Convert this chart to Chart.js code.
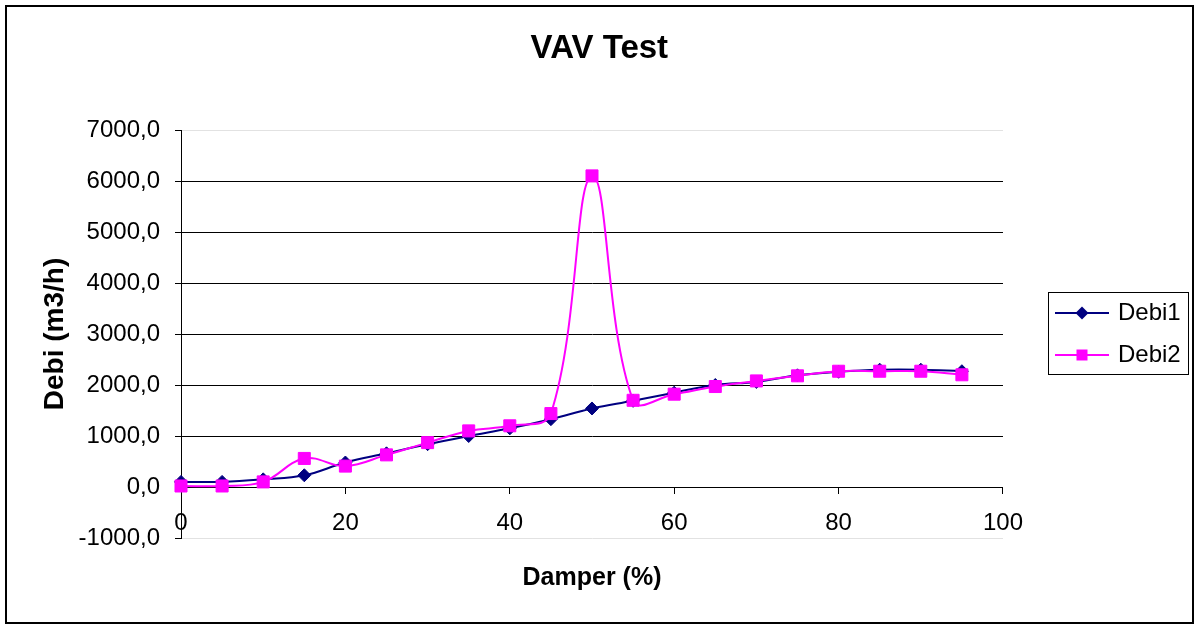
<!DOCTYPE html>
<html>
<head>
<meta charset="utf-8">
<script src="https://cdn.jsdelivr.net/npm/chart.js@4"></script>
<style>
html,body{margin:0;padding:0;background:#fff;}
#wrap{position:relative;width:1196px;height:626px;}
#frame{position:absolute;left:5px;top:5px;width:1185px;height:615px;border:2px solid #000;pointer-events:none;}
</style>
</head>
<body>
<div id="wrap"><canvas id="c" width="1196" height="626"></canvas><div id="frame"></div></div>
<script>
// ---- data ----
const damper = [0, 5, 10, 15, 20, 25, 30, 35, 40, 45, 50, 55, 60, 65, 70, 75, 80, 85, 90, 95];
const debi1  = [100, 100, 150, 230, 480, 660, 840, 1000, 1150, 1330, 1540, 1690, 1850, 2000, 2060, 2190, 2260, 2300, 2300, 2270];
const debi2  = [20, 20, 100, 560, 410, 630, 870, 1100, 1200, 1440, 6100, 1700, 1820, 1970, 2080, 2180, 2270, 2270, 2270, 2200];
const seriesNames = ['Debi1', 'Debi2'];
const xTicks = [0, 20, 40, 60, 80, 100];
const yTicks = [-1000, 0, 1000, 2000, 3000, 4000, 5000, 6000, 7000];
const titleText = 'VAV Test';
const xTitle = 'Damper (%)';
const yTitle = 'Debi (m3/h)';

const FAMILY = "'Liberation Sans', Arial, sans-serif";
const NAVY = '#000080';
const MAGENTA = '#FF00FF';

function makeLegendIcon(color, shape) {
  const c = document.createElement('canvas');
  c.width = 54; c.height = 16;
  const g = c.getContext('2d');
  g.strokeStyle = color; g.lineWidth = 2;
  g.beginPath(); g.moveTo(0, 8); g.lineTo(54, 8); g.stroke();
  g.fillStyle = color;
  if (shape === 'diamond') {
    g.beginPath(); g.moveTo(27, 1.5); g.lineTo(33.5, 8); g.lineTo(27, 14.5); g.lineTo(20.5, 8); g.closePath(); g.fill();
  } else {
    g.fillRect(21.5, 2.5, 11, 11);
  }
  return c;
}
const legendIcons = [makeLegendIcon(NAVY, 'diamond'), makeLegendIcon(MAGENTA, 'square')];

const legendBox = {
  id: 'legendBox',
  afterDraw(chart) {
    const lg = chart.legend;
    if (!lg || !lg.legendHitBoxes || !lg.legendHitBoxes.length) return;
    const hb = lg.legendHitBoxes;
    const ctx = chart.ctx;
    const l = Math.round(hb[0].left - 10) + 0.5;
    const r = Math.round(lg.right - 3) + 0.5;
    const t = Math.round(hb[0].top - 9) + 0.5;
    const last = hb[hb.length - 1];
    const b = Math.round(last.top + last.height + 7) + 0.5;
    ctx.save();
    ctx.strokeStyle = '#000';
    ctx.lineWidth = 1;
    ctx.strokeRect(l, t, r - l, b - t);
    ctx.restore();
  }
};

new Chart(document.getElementById('c'), {
  type: 'line',
  data: {
    datasets: [
      {
        label: seriesNames[0],
        data: damper.map((x, i) => ({x: x, y: debi1[i]})),
        borderColor: NAVY, backgroundColor: NAVY,
        pointBorderColor: NAVY, pointBackgroundColor: NAVY,
        borderWidth: 2, pointStyle: 'rectRot', pointRadius: 6.5, pointBorderWidth: 1,
        tension: 0.4, clip: false, order: 2, xAxisID: 'x', yAxisID: 'y'
      },
      {
        label: seriesNames[1],
        data: damper.map((x, i) => ({x: x, y: debi2[i]})),
        borderColor: MAGENTA, backgroundColor: MAGENTA,
        pointBorderColor: MAGENTA, pointBackgroundColor: MAGENTA,
        borderWidth: 2, pointStyle: 'rect', pointRadius: 8.5, pointBorderWidth: 1,
        tension: 0.4, clip: false, order: 1, xAxisID: 'x', yAxisID: 'y'
      }
    ]
  },
  options: {
    responsive: false,
    animation: false,
    devicePixelRatio: 1,
    layout: { padding: { left: 8, right: 5.3, top: 10, bottom: 0 } },
    plugins: {
      tooltip: { enabled: false },
      title: {
        display: true, text: titleText, color: '#000',
        font: { family: FAMILY, size: 33, weight: 'bold', lineHeight: 1.2 },
        padding: { top: 19.2, bottom: 61.2 }
      },
      legend: {
        position: 'right',
        fullSize: false,
        labels: {
          usePointStyle: true,
          pointStyleWidth: 48,
          padding: 18,
          color: '#000',
          font: { family: FAMILY, size: 24 },
          generateLabels: (chart) => chart.data.datasets.map((ds, i) => ({
            text: ds.label, pointStyle: legendIcons[i], fillStyle: ds.borderColor,
            strokeStyle: ds.borderColor, lineWidth: 0, hidden: false, datasetIndex: i, fontColor: '#000'
          }))
        }
      }
    },
    scales: {
      x: {
        type: 'linear', min: 0, max: 100,
        position: { y: 0 },
        afterBuildTicks: (s) => { s.ticks = xTicks.map(v => ({ value: v })); },
        ticks: { color: '#000', padding: 16, maxRotation: 0, autoSkip: false,
                 font: { family: FAMILY, size: 24 }, callback: (v) => String(v) },
        grid: { display: true, drawOnChartArea: false, drawTicks: true, tickLength: 6, tickColor: '#000', color: '#000' },
        border: { display: true, color: '#000', width: 1 },
        title: { display: false }
      },
      x2: {
        type: 'linear', position: 'bottom', min: 0, max: 100,
        ticks: { display: false },
        grid: { display: false, drawTicks: false },
        border: { display: false },
        title: { display: true, text: xTitle, color: '#000',
                 font: { family: FAMILY, size: 25, weight: 'bold', lineHeight: 1.2 },
                 padding: { top: 0, bottom: 33 } },
        afterFit: (s) => { s.height = 88; }
      },
      y: {
        type: 'linear', min: -1000, max: 7000, position: 'left',
        afterBuildTicks: (s) => { s.ticks = yTicks.map(v => ({ value: v })); },
        ticks: { color: '#000', padding: 15, font: { family: FAMILY, size: 24 },
                 callback: (v) => Number(v).toFixed(1).replace('.', ',') },
        grid: {
          color: (ctx) => (ctx.tick && (ctx.tick.value === 7000 || ctx.tick.value === -1000)) ? '#e2e2e2' : '#000',
          tickColor: '#000', tickLength: 6, lineWidth: 1
        },
        border: { display: true, color: '#000', width: 1 },
        title: { display: true, text: yTitle, color: '#000',
                 font: { family: FAMILY, size: 28, weight: 'bold', lineHeight: 1.2 },
                 padding: { top: 30.2, bottom: 0 } },
        afterFit: (s) => { s.width = 173; }
      },
      y2: {
        type: 'linear', position: 'right', min: 0, max: 1,
        ticks: { display: false },
        grid: { display: false, drawTicks: false },
        border: { display: false },
        afterFit: (s) => { s.width = 37; }
      }
    }
  },
  plugins: [legendBox]
});
</script>
</body>
</html>
